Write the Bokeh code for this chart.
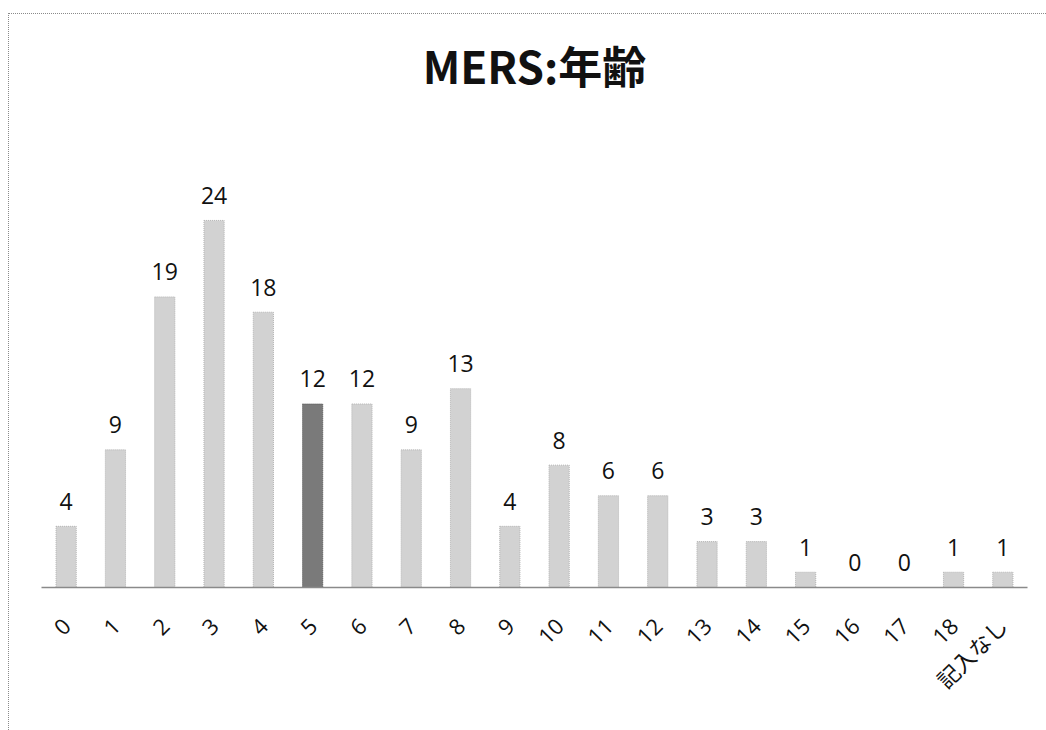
import math

from bokeh.core.properties import value
from bokeh.embed import file_html
from bokeh.models import ColumnDataSource, FixedTicker, Range1d
from bokeh.plotting import figure
from bokeh.resources import INLINE

# Age categories and respondent counts
categories = ["0", "1", "2", "3", "4", "5", "6", "7", "8", "9", "10",
              "11", "12", "13", "14", "15", "16", "17", "18", "記入なし"]
counts = [4, 9, 19, 24, 18, 12, 12, 9, 13, 4, 8, 6, 6, 3, 3, 1, 0, 0, 1, 1]
highlight = "5"

LIGHT = "#d2d2d2"
DARK = "#7a7a7a"

xs = list(range(len(categories)))
fills = [DARK if c == highlight else LIGHT for c in categories]
lines = ["#555555" if c == highlight else "#b4b4b4" for c in categories]

src = ColumnDataSource(dict(x=xs, top=counts, fill=fills, line=lines,
                            label=[str(v) for v in counts]))

p = figure(width=1038, height=717, margin=(13, 0, 0, 8),
           x_range=Range1d(-0.5, len(categories) - 0.5),
           y_range=Range1d(0, 31.45),
           output_backend="svg", toolbar_location=None,
           min_border_left=32, min_border_right=20,
           min_border_top=92, min_border_bottom=144,
           styles={"border-left": "1px dotted #8a8a8a",
                   "border-top": "1px dotted #8a8a8a"})

p.title.text = "MERS:年齢"
p.title.align = "center"
p.title.text_font = "Noto Sans CJK JP"
p.title.text_font_style = "bold"
p.title.text_font_size = "44px"
p.title.text_color = "#111111"
p.title.standoff = 19

p.vbar(x="x", top="top", bottom=0, width=0.41, source=src,
       fill_color="fill", line_color="line", line_width=1,
       line_dash="1 1")

# value labels above each bar
p.text(x="x", y="top", text="label", source=src,
       text_align="center", text_baseline="alphabetic", y_offset=-25,
       text_font=value("Open Sans"), text_font_size="23px",
       text_color="#111111")

p.yaxis.visible = False
p.grid.visible = False
p.outline_line_color = None

ax = p.xaxis[0]
ax.ticker = FixedTicker(ticks=xs)
ax.major_label_overrides = {i: c for i, c in zip(xs, categories)}
ax.major_label_orientation = math.pi / 4
ax.major_label_text_font = "Open Sans, Noto Sans CJK JP"
ax.major_label_text_font_size = "22px"
ax.major_label_text_color = "#111111"
ax.major_label_standoff = 28
ax.major_tick_line_color = None
ax.minor_tick_line_color = None
ax.axis_line_color = "#8a8a8a"
ax.axis_line_width = 1.5

open("out.html", "w").write(file_html(p, INLINE))
